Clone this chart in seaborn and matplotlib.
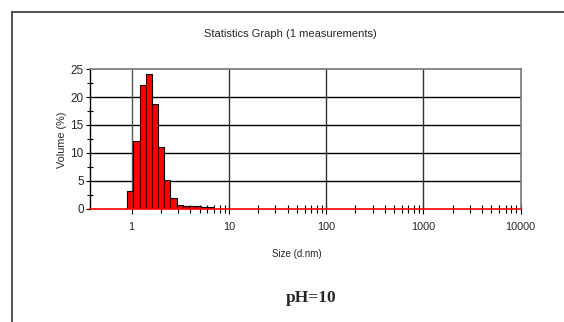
import numpy as np
import matplotlib
matplotlib.use("Agg")
import matplotlib.pyplot as plt
import seaborn as sns
from matplotlib.ticker import FixedLocator, NullFormatter
from matplotlib.lines import Line2D

# ---- data ----
sizes = [0.9649, 1.117, 1.294, 1.499, 1.736, 2.010, 2.328,
         2.696, 3.122, 3.615, 4.187, 4.849, 5.615, 6.503]
volumes = [3.1, 12.2, 22.1, 24.1, 18.8, 11.1, 5.2,
           1.9, 0.7, 0.5, 0.5, 0.5, 0.3, 0.3]
x_ticks = [1, 10, 100, 1000, 10000]
x_ticklabels = ["1", "10", "100", "1000", "10000"]
y_ticks = [0, 5, 10, 15, 20, 25]
title = "Statistics Graph (1 measurements)"
xlabel = "Size (d.nm)"
ylabel = "Volume (%)"
caption = "pH=10"

sns.set_style("white")
plt.rcParams["font.family"] = ["Liberation Sans", "DejaVu Sans"]

W, H = 564, 322
fig = plt.figure(figsize=(W / 100, H / 100), dpi=100)

# outer frame lines (left and top)
fig.add_artist(Line2D([12 / W, 12 / W], [0, 1 - 12 / H], color="#333333", lw=1.2))
fig.add_artist(Line2D([12 / W, 1], [1 - 12 / H, 1 - 12 / H], color="#333333", lw=1.2))

ax = fig.add_axes([90 / W, 1 - 208.5 / H, (520.7 - 90) / W, (208.5 - 69.3) / H])

dlog = np.log10(10000 / 0.4) / 69
lo = np.log10(sizes[0]) - dlog / 2
hi = np.log10(sizes[-1]) + dlog / 2
sns.histplot(x=sizes, weights=volumes, log_scale=True, binwidth=dlog,
             binrange=(lo, hi), stat="count", color="#ff0000", alpha=1,
             edgecolor="black", linewidth=0.8, ax=ax, zorder=3)

ax.set_xlim(10 ** -0.429, 10000)
ax.set_ylim(0, 25)

# grid
for yv in y_ticks[1:-1]:
    ax.axhline(yv, color="black", lw=1.0, zorder=1)
for xv in [10, 100, 1000]:
    ax.axvline(xv, color="#333333", lw=1.0, zorder=1)
ax.axvline(1, color="#555555", lw=1.0, zorder=1)

for s in ["top", "right"]:
    ax.spines[s].set_color("#777777")
    ax.spines[s].set_linewidth(1.2)
ax.spines["left"].set_color("black")
ax.spines["left"].set_linewidth(1.0)
ax.spines["bottom"].set_color("#ff0000")
ax.spines["bottom"].set_linewidth(1.2)
ax.spines["bottom"].set_zorder(5)

minor_x = [m * d for d in [1, 10, 100, 1000] for m in range(2, 10)]
ax.xaxis.set_major_locator(FixedLocator(x_ticks))
ax.set_xticklabels(x_ticklabels)
ax.xaxis.set_minor_locator(FixedLocator(minor_x))
ax.xaxis.set_minor_formatter(NullFormatter())
ax.tick_params(axis="x", which="major", direction="inout", length=7, width=0.8,
               color="black", labelsize=7.8, pad=6)
ax.tick_params(axis="x", which="minor", direction="inout", length=6, width=0.8,
               color="black")
ax.tick_params(axis="x", which="both", bottom=True)

ax.yaxis.set_major_locator(FixedLocator(y_ticks))
ax.yaxis.set_minor_locator(FixedLocator([2.5, 7.5, 12.5, 17.5, 22.5]))
ax.tick_params(axis="y", which="major", direction="out", length=3, width=0.8,
               color="black", labelsize=8.5, pad=1.5)
ax.tick_params(axis="y", which="minor", direction="inout", length=4, width=0.8,
               color="black")
ax.tick_params(axis="y", which="both", left=True)

ax.set_xlabel("")
ax.set_ylabel("")

fig.text(290 / W, 1 - 34 / H, title, ha="center", va="center", fontsize=8)
fig.text(297 / W, 1 - 254 / H, xlabel, ha="center", va="center", fontsize=7)
fig.text(62 / W, 1 - 140 / H, ylabel, ha="center", va="center", rotation=90, fontsize=7.8)
fig.text(311 / W, 1 - 298 / H, caption, ha="center", va="center", fontsize=12.5,
         fontweight="bold", family=["Liberation Serif", "DejaVu Serif"])

fig.savefig("out.png", dpi=100)
